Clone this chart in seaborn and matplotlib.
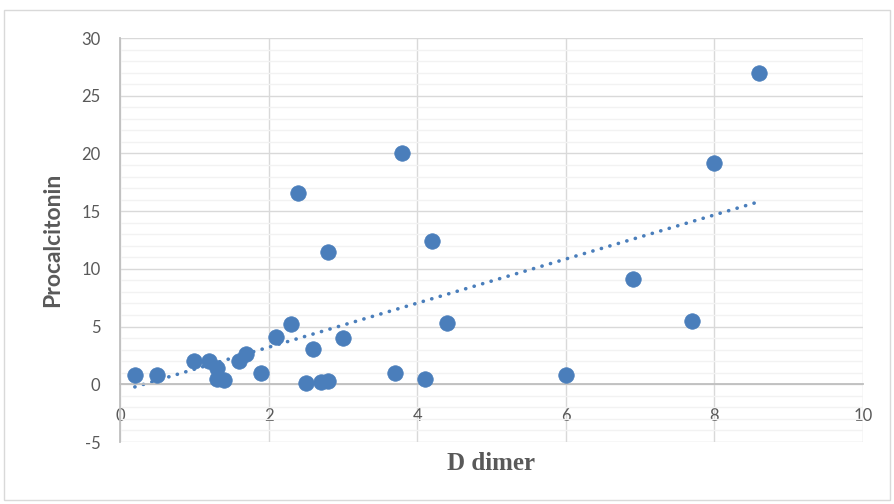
import numpy as np
import pandas as pd
import matplotlib
matplotlib.use("Agg")
import matplotlib.pyplot as plt
from matplotlib.patches import Rectangle
import seaborn as sns

# values
d_dimer = [0.2, 0.5, 1.0, 1.2, 1.3, 1.3, 1.4, 1.6, 1.7, 1.9, 2.1, 2.3, 2.4, 2.5,
           2.6, 2.7, 2.8, 2.8, 3.0, 3.7, 3.8, 4.1, 4.2, 4.4, 6.0, 6.9, 7.7, 8.0, 8.6]
procalcitonin = [0.8, 0.8, 2.0, 2.0, 1.4, 0.5, 0.4, 2.0, 2.6, 1.0, 4.1, 5.2, 16.6, 0.1,
                 3.1, 0.2, 11.5, 0.3, 4.0, 1.0, 20.0, 0.5, 12.4, 5.3, 0.8, 9.1, 5.5, 19.2, 27.0]
x_ticks = [0, 2, 4, 6, 8, 10]
y_ticks = [-5, 0, 5, 10, 15, 20, 25, 30]

df = pd.DataFrame({'D dimer': d_dimer, 'Procalcitonin': procalcitonin})

blue = '#4A7EBB'
grey_text = '#595959'

sns.set_style('white')
plt.rcParams['font.family'] = ['Lato', 'DejaVu Sans']
plt.rcParams['axes.unicode_minus'] = False

fig = plt.figure(figsize=(8.94, 5.04), dpi=100)
ax = fig.add_axes([0.1342, 0.123, 0.8311, 0.8016])

#outer chart border like excel
fig.patches.append(Rectangle((0.005, 0.008), 0.99, 0.972, transform=fig.transFigure,
                             fill=False, edgecolor='#D9D9D9', linewidth=1))

#trendline (dotted)
sns.regplot(data=df, x='D dimer', y='Procalcitonin', ci=None, scatter=False, ax=ax,
            line_kws=dict(color=blue, linestyle=(0, (0.05, 2.4)), linewidth=2.6,
                          dash_capstyle='round'))

sns.scatterplot(data=df, x='D dimer', y='Procalcitonin', ax=ax, color=blue,
                s=125, edgecolor=blue, linewidth=0.5, zorder=5)

ax.set_xlim(0, 10)
ax.set_ylim(-5, 30)
ax.set_xticks(x_ticks)
ax.set_yticks(y_ticks)
ax.set_yticks(np.arange(-5, 31, 1), minor=True)

ax.grid(True, which='major', color='#D9D9D9', linewidth=1)
ax.grid(True, which='minor', axis='y', color='#F2F2F2', linewidth=1)
ax.set_axisbelow(True)

for s in ['top', 'right']:
    ax.spines[s].set_visible(False)
ax.spines['bottom'].set_position(('data', 0))
ax.spines['bottom'].set_color('#BFBFBF')
ax.spines['bottom'].set_linewidth(1.3)
ax.spines['left'].set_color('#BFBFBF')
ax.spines['left'].set_linewidth(1.3)

ax.tick_params(axis='x', length=0, pad=17, labelsize=12, labelcolor=grey_text)
ax.tick_params(axis='y', length=0, pad=14, labelsize=12, labelcolor=grey_text)
ax.tick_params(which='minor', length=0)

#x title is serif, y title is sans in the reference
ax.set_xlabel('D dimer', fontsize=18, fontweight='bold', color=grey_text,
              family='Liberation Serif')
ax.set_ylabel('Procalcitonin', fontsize=16.5, fontweight='bold', color=grey_text)
ax.xaxis.set_label_coords(0.5, -0.025)
ax.yaxis.set_label_coords(-0.076, 0.5)

fig.savefig('out.png', dpi=100)
